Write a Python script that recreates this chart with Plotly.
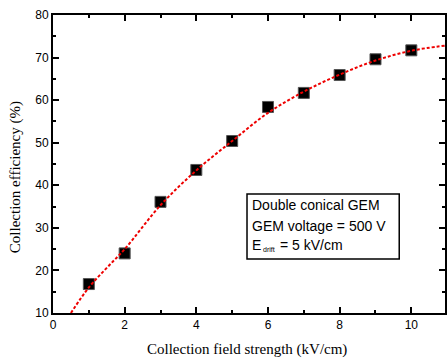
import plotly.graph_objects as go

# Measured collection efficiency vs. collection field
field_kv_cm = [1, 2, 3, 4, 5, 6, 7, 8, 9, 10]
efficiency_pct = [16.8, 24.0, 36.1, 43.6, 50.4, 58.4, 61.7, 65.9, 69.6, 71.7]

# Fitted trend line, sampled along the curve
fit_x = [0.5, 1.0, 1.5, 2.0, 3.0, 4.0, 5.0, 6.0, 7.0, 8.0, 9.0, 10.0, 10.94]
fit_y = [10.0, 16.0, 20.6, 25.0, 35.3, 43.5, 50.4, 57.0, 62.0, 66.0, 69.3, 71.6, 72.8]

x_ticks = [0, 2, 4, 6, 8, 10]
y_ticks = [10, 20, 30, 40, 50, 60, 70, 80]

fig = go.Figure()

fig.add_trace(go.Scatter(
    x=field_kv_cm, y=efficiency_pct, mode="markers",
    marker=dict(symbol="square", size=11, color="black",
                line=dict(width=1, color="#555555")),
    showlegend=False, cliponaxis=False,
))

fig.add_trace(go.Scatter(
    x=fit_x, y=fit_y, mode="lines",
    line=dict(color="#ee0000", width=2, dash="3px,2px", shape="spline"),
    showlegend=False,
))

axis_common = dict(
    showline=True, linecolor="black", linewidth=2, mirror="ticks",
    ticks="inside", ticklen=6, tickwidth=1.5, tickcolor="black",
    showgrid=False, zeroline=False,
    tickfont=dict(family="Liberation Sans, Arial", size=12, color="black"),
)

fig.update_xaxes(
    range=[0, 10.94], tickvals=x_ticks,
    minor=dict(dtick=1, ticks="inside", ticklen=3, tickwidth=1.5, tickcolor="black"),
    **axis_common,
)
fig.update_yaxes(
    range=[10, 80], tickvals=y_ticks,
    minor=dict(dtick=5, ticks="inside", ticklen=3, tickwidth=1.5, tickcolor="black"),
    **axis_common,
)

serif = dict(family="Liberation Serif, Times New Roman", size=15, color="black")
sans = dict(family="Liberation Sans, Arial", size=14, color="black")
tiny = dict(family="Liberation Sans, Arial", size=7, color="black")


def px_x(p):
    return (p - 53) / 394


def px_y(p):
    return (313 - p) / 298


def note(text, x, y, font, xanchor="left", **kw):
    return dict(text=text, xref="paper", yref="paper", x=px_x(x), y=px_y(y),
                xanchor=xanchor, yanchor="middle", showarrow=False, font=font, **kw)


annotations = [
    note("Collection field strength (kV/cm)", 248, 349, serif, xanchor="center"),
    note("Collection efficiency (%)", 15, 177, serif, xanchor="center", textangle=-90),
    note("Double conical GEM", 251, 205, sans),
    note("GEM voltage = 500 V", 251, 226, sans),
    note("E", 251, 245, sans),
    note("drift", 262, 249, tiny),
    note("= 5 kV/cm", 279, 245, sans),
]

fig.update_layout(
    width=447, height=363,
    margin=dict(l=53, r=0, t=15, b=50),
    paper_bgcolor="white", plot_bgcolor="white",
    annotations=annotations,
    shapes=[dict(type="rect", xref="paper", yref="paper",
                 x0=px_x(248), x1=px_x(401), y0=px_y(259), y1=px_y(194),
                 line=dict(color="black", width=1.5), fillcolor="rgba(0,0,0,0)")],
)

fig.write_html("out.html")
